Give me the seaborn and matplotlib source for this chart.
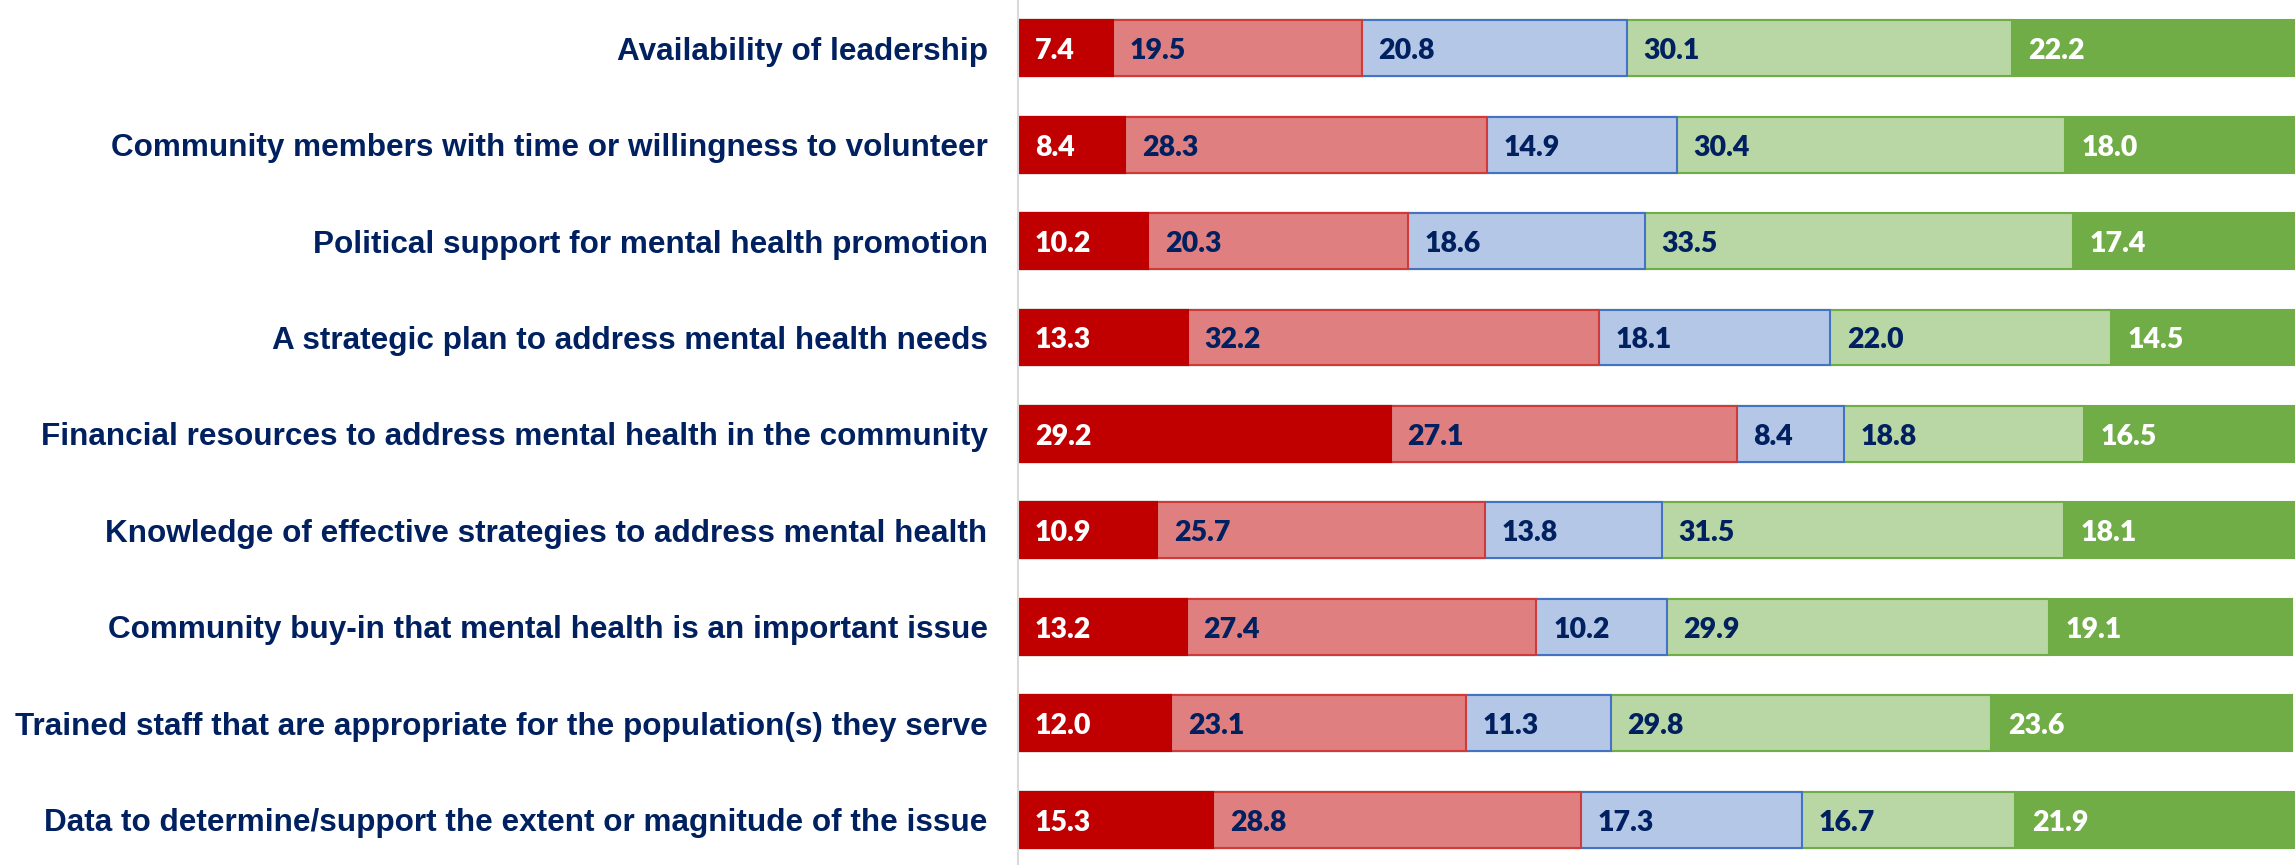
import matplotlib
matplotlib.use("Agg")
import matplotlib.pyplot as plt
import numpy as np
import seaborn as sns

categories = [
    "Availability of leadership",
    "Community members with time or willingness to volunteer",
    "Political support for mental health promotion",
    "A strategic plan to address mental health needs",
    "Financial resources to address mental health in the community",
    "Knowledge of effective strategies to address mental health",
    "Community buy-in that mental health is an important issue",
    "Trained staff that are appropriate for the population(s) they serve",
    "Data to determine/support the extent or magnitude of the issue",
]
very_low = [7.4, 8.4, 10.2, 13.3, 29.2, 10.9, 13.2, 12.0, 15.3]
low = [19.5, 28.3, 20.3, 32.2, 27.1, 25.7, 27.4, 23.1, 28.8]
moderate = [20.8, 14.9, 18.6, 18.1, 8.4, 13.8, 10.2, 11.3, 17.3]
high = [30.1, 30.4, 33.5, 22.0, 18.8, 31.5, 29.9, 29.8, 16.7]
very_high = [22.2, 18.0, 17.4, 14.5, 16.5, 18.1, 19.1, 23.6, 21.9]

series = [very_low, low, moderate, high, very_high]
fills = ["#C00000", "#DF7F7F", "#B4C7E7", "#B9D7A4", "#70AD47"]
edges = ["#C00000", "#D03A3A", "#4472C4", "#70AD47", "#70AD47"]
text_colors = ["white", "#002060", "#002060", "#002060", "white"]

sns.set_theme(style="white")
plt.rcParams["font.family"] = ["Liberation Sans", "DejaVu Sans"]

fig = plt.figure(figsize=(22.95, 8.65), dpi=100)
ax = fig.add_axes([0.4436, 0.0, 0.5564, 1.0])

vals = np.array(series)
cum = np.cumsum(vals, axis=0)
starts = cum - vals

# draw cumulative layers from the outermost inward so each segment shows
for i in reversed(range(len(series))):
    sns.barplot(x=cum[i], y=categories, color=fills[i], saturation=1,
                edgecolor=edges[i], linewidth=1.5, width=0.58,
                orient="h", errorbar=None, ax=ax)

for i in range(len(series)):
    for j, v in enumerate(series[i]):
        ax.text(starts[i, j] + 1.3, j + 0.03, f"{v:.1f}", va="center", ha="left",
                color=text_colors[i], fontsize=20.5, fontweight="heavy",
                family=["Lato", "DejaVu Sans"])

ax.set_xlim(0, 100)
ax.set_ylim(8.47, -0.5)
ax.set_xlabel("")
ax.set_ylabel("")
ax.set_xticks([])
for s in ["top", "right", "bottom"]:
    ax.spines[s].set_visible(False)
ax.spines["left"].set_color("#D9D9D9")
ax.spines["left"].set_linewidth(1.5)
ax.tick_params(axis="y", length=0, pad=22)
for lab in ax.get_yticklabels():
    lab.set_fontsize(22.7)
    lab.set_fontweight("bold")
    lab.set_color("#002060")

fig.savefig("out.png", dpi=100)
